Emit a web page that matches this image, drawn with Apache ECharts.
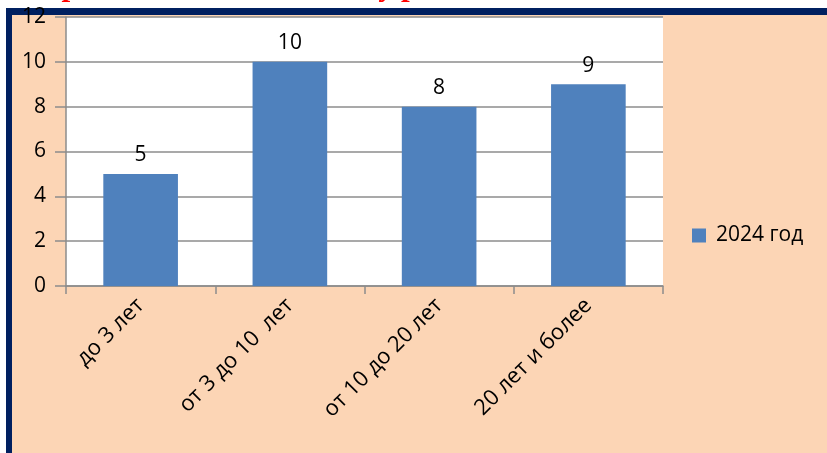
<!DOCTYPE html>
<html>
<head>
<meta charset="utf-8">
<script src="https://cdn.jsdelivr.net/npm/echarts@6/dist/echarts.min.js"></script>
<style>
  html, body { margin: 0; padding: 0; background: #fff; }
  #chart { width: 827px; height: 453px; }
</style>
</head>
<body>
<div id="chart"></div>
<script>
// chart data
const categories = ['до 3 лет', 'от 3 до 10  лет', 'от 10 до 20 лет', '20 лет и более'];
const values2024 = [5, 10, 8, 9];
const seriesName = '2024 год';
const headline = 'Кадровый состав по стажу работы педагогов:';

const chart = echarts.init(document.getElementById('chart'));
const font = '"Open Sans", sans-serif';

const option = {
  backgroundColor: '#ffffff',
  animation: false,
  graphic: [
    { type: 'rect', z: -10, shape: { x: 6, y: 8, width: 821, height: 445 }, style: { fill: '#002060' } },
    { type: 'rect', z: -9, shape: { x: 12, y: 15, width: 815, height: 438 }, style: { fill: '#FCD5B5' } },
    {
      type: 'text', z: -11, left: 12, top: -29,
      style: {
        text: headline, fill: '#ff0000',
        font: 'italic bold 31px "Liberation Serif", serif'
      }
    }
  ],
  legend: {
    left: 692,
    top: 225,
    padding: 0,
    orient: 'vertical',
    itemWidth: 14,
    itemHeight: 14,
    icon: 'rect',
    textStyle: { fontFamily: font, fontSize: 21, color: '#000', padding: [0, 0, 0, 5] },
    data: [seriesName]
  },
  grid: {
    left: 66, top: 17, width: 597, height: 269,
    show: true, backgroundColor: '#ffffff', borderWidth: 0,
    containLabel: false
  },
  xAxis: {
    type: 'category',
    data: categories,
    axisLine: { lineStyle: { color: '#8c8c8c', width: 1.5 } },
    axisTick: { show: true, length: 8, lineStyle: { color: '#8c8c8c', width: 1.5 } },
    axisLabel: {
      rotate: 45, interval: 0, margin: 16,
      fontFamily: font, fontSize: 22, color: '#000'
    }
  },
  yAxis: {
    type: 'value',
    min: 0, max: 12, interval: 2,
    axisLine: { show: true, lineStyle: { color: '#8c8c8c', width: 1.5 } },
    axisTick: { show: true, length: 11, lineStyle: { color: '#8c8c8c', width: 1.5 } },
    splitLine: { lineStyle: { color: '#8c8c8c', width: 1.5 } },
    axisLabel: { margin: 20, fontFamily: font, fontSize: 21, color: '#000' }
  },
  series: [{
    name: seriesName,
    type: 'bar',
    data: values2024,
    barWidth: '50%',
    itemStyle: { color: '#4F81BD' },
    label: {
      show: true, position: 'top', distance: 8,
      fontFamily: font, fontSize: 21, color: '#000'
    }
  }]
};

chart.setOption(option);
</script>
</body>
</html>
